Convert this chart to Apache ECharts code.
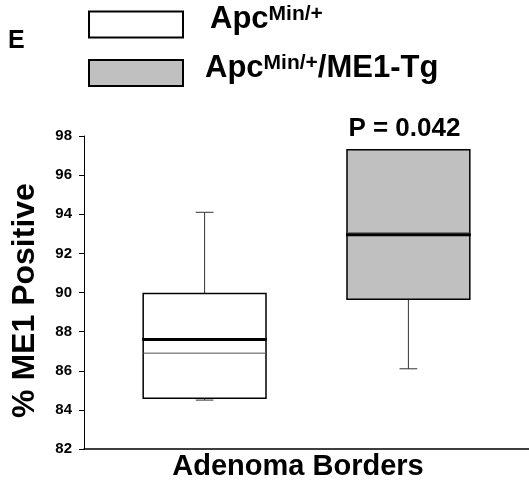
<!DOCTYPE html>
<html>
<head>
<meta charset="utf-8">
<script src="https://cdn.jsdelivr.net/npm/echarts@6/dist/echarts.min.js"></script>
<style>
  html, body { margin: 0; padding: 0; background: #fff; }
  #chart { width: 529px; height: 481px; }
</style>
</head>
<body>
<div id="chart"></div>
<script>
// data
const categories = ['Adenoma Borders'];
const groupNames = ['ApcMin/+', 'ApcMin/+/ME1-Tg'];
const groupFill = ['#ffffff', '#c0c0c0'];
const lowWhisker = [84.5, 86.1];
const q1 = [84.6, 89.65];
const median = [86.9, 93.05];
const q3 = [89.95, 97.3];
const highWhisker = [94.1, 97.3];
const mean = [87.6, 92.95];
const pLabels = ['', 'P = 0.042'];
const yMin = 82, yMax = 98, yStep = 2;

const FONT = 'Liberation Sans, Arial, sans-serif';

function renderBox(params, api) {
  const i = params.seriesIndex;
  const bw = api.size([1, 0])[0];
  const offset = (i === 0 ? -1 : 1) * 0.229 * bw;
  const half = 0.138 * bw;
  const cap = 0.02 * bw;
  const cx = api.coord([api.value(0), yMin])[0] + offset;
  const y = v => api.coord([0, v])[1];
  const yLo = y(api.value(1)), yQ1 = y(api.value(2)), yMed = y(api.value(3));
  const yQ3 = y(api.value(4)), yHi = y(api.value(5)), yMean = y(api.value(6));
  const whisker = { stroke: '#333', lineWidth: 1 };
  const children = [
    { type: 'line', shape: { x1: cx, y1: yQ3, x2: cx, y2: yHi }, style: whisker },
    { type: 'line', shape: { x1: cx - cap, y1: yHi, x2: cx + cap, y2: yHi }, style: whisker },
    { type: 'line', shape: { x1: cx, y1: yQ1, x2: cx, y2: yLo }, style: whisker },
    { type: 'line', shape: { x1: cx - cap, y1: yLo, x2: cx + cap, y2: yLo }, style: whisker },
    { type: 'rect', shape: { x: cx - half, y: yQ3, width: half * 2, height: yQ1 - yQ3 },
      style: { fill: groupFill[i], stroke: '#000', lineWidth: 1.5 } },
    { type: 'line', shape: { x1: cx - half, y1: yMed, x2: cx + half, y2: yMed },
      style: { stroke: '#555', lineWidth: 1 } },
    { type: 'line', shape: { x1: cx - half - 1, y1: yMean, x2: cx + half + 1, y2: yMean },
      style: { stroke: '#000', lineWidth: 3 } }
  ];
  if (pLabels[i]) {
    children.push({
      type: 'text', x: cx - 4, y: yHi - 8,
      style: { text: pLabels[i], fontSize: 26, fontWeight: 'bold', fontFamily: FONT,
               fill: '#000', align: 'center', verticalAlign: 'bottom' }
    });
  }
  return { type: 'group', children: children };
}

const series = groupNames.map((name, i) => ({
  name: name,
  type: 'custom',
  renderItem: renderBox,
  encode: { x: 0, y: [1, 2, 3, 4, 5, 6] },
  itemStyle: { color: groupFill[i] },
  data: [[0, lowWhisker[i], q1[i], median[i], q3[i], highWhisker[i], mean[i]]]
}));

const chart = echarts.init(document.getElementById('chart'), null, { renderer: 'canvas' });
chart.setOption({
  animation: false,
  title: {
    text: 'E', left: 3, top: 24,
    textStyle: { fontSize: 25, fontWeight: 'bold', fontFamily: FONT, color: '#000' }
  },
  legend: {
    orient: 'vertical', left: 83, top: -1, itemGap: 14,
    icon: 'rect', itemWidth: 94, itemHeight: 26,
    data: groupNames.map((n, i) => ({
      name: n,
      itemStyle: { color: groupFill[i], borderColor: '#000', borderWidth: 2 },
      textStyle: { padding: [0, 0, 10, i === 0 ? 22 : 17] }
    })),
    formatter: n => '{m|Apc}{s|Min/+}{m|' + n.slice(8) + '}',
    textStyle: {
      rich: {
        m: { fontSize: 31, fontWeight: 'bold', fontFamily: FONT, color: '#000' },
        s: { fontSize: 21, fontWeight: 'bold', fontFamily: FONT, color: '#000',
             verticalAlign: 'top', padding: [0, 0, 8, 0] }
      }
    }
  },
  grid: { left: 84, right: 0, top: 136, bottom: 32, outerBoundsMode: 'none' },
  xAxis: {
    type: 'category',
    data: categories,
    axisLine: { lineStyle: { color: '#000', width: 1.5 } },
    axisTick: { show: false },
    axisLabel: {
      margin: 3, fontSize: 29, fontWeight: 'bold', fontFamily: FONT, color: '#000',
      padding: [0, 17, 0, 0]
    }
  },
  yAxis: {
    type: 'value', min: yMin, max: yMax, interval: yStep,
    name: '% ME1 Positive', nameLocation: 'middle', nameGap: 43,
    nameTextStyle: { fontSize: 32, fontWeight: 'bold', fontFamily: FONT, color: '#000',
                     padding: [0, 16, 0, 0] },
    splitLine: { show: false },
    axisLine: { show: true, lineStyle: { color: '#000', width: 1 } },
    axisTick: { show: true, length: 5, lineStyle: { color: '#000' } },
    axisLabel: { margin: 12, fontSize: 15, fontWeight: 'bold', fontFamily: FONT, color: '#000' }
  },
  series: series
});
</script>
</body>
</html>
